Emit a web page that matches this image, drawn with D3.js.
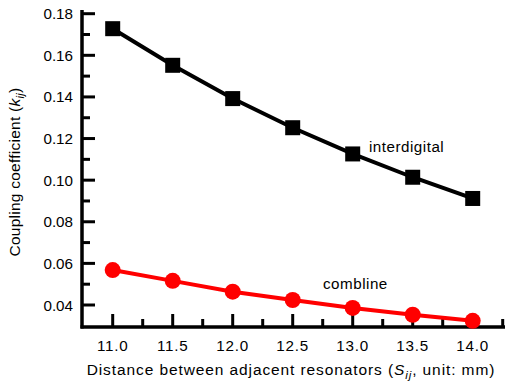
<!DOCTYPE html>
<html>
<head>
<meta charset="utf-8">
<script src="https://cdn.jsdelivr.net/npm/d3@7"></script>
<style>
  body { margin: 0; background: #fff; }
  svg text { font-family: "Liberation Sans", Arial, sans-serif; fill: #000; }
</style>
</head>
<body>
<svg width="507" height="385"></svg>
<script>
// distance between resonators, mm
const distance = [11.0, 11.5, 12.0, 12.5, 13.0, 13.5, 14.0];
const interdigital = [0.1728, 0.1552, 0.1392, 0.1252, 0.1126, 0.1014, 0.0912];
const combline = [0.0568, 0.0516, 0.0464, 0.0424, 0.0386, 0.0353, 0.0324];
const xTicks = [11.0, 11.5, 12.0, 12.5, 13.0, 13.5, 14.0];
const yTicks = [0.04, 0.06, 0.08, 0.10, 0.12, 0.14, 0.16, 0.18];

const svg = d3.select("svg");

const x = d3.scaleLinear().domain([11.0, 14.0]).range([112.7, 472.7]);
const y = d3.scaleLinear().domain([0.04, 0.18]).range([305, 13.7]);
const yBottom = 327, yTop = 10;
const xLeft = 82, xRight = 505;

const axisG = svg.append("g");

// axis lines
axisG.append("line")
  .attr("x1", xLeft).attr("x2", xLeft)
  .attr("y1", yTop).attr("y2", yBottom + 1.5)
  .attr("stroke", "#000").attr("stroke-width", 3.5);
axisG.append("line")
  .attr("x1", xLeft - 1.5).attr("x2", xRight)
  .attr("y1", yBottom).attr("y2", yBottom)
  .attr("stroke", "#000").attr("stroke-width", 3.5);

// y ticks (major + minor) pointing inward
const yMinor = d3.range(0.03, 0.181, 0.01).filter(v => y(v) <= yBottom - 2);
yMinor.forEach(v => {
  const major = yTicks.some(t => Math.abs(t - v) < 1e-6);
  axisG.append("line")
    .attr("x1", xLeft).attr("x2", xLeft + (major ? 13 : 8))
    .attr("y1", y(v)).attr("y2", y(v))
    .attr("stroke", "#000").attr("stroke-width", 3);
});
axisG.selectAll(".ylab").data(yTicks).join("text")
  .attr("x", 73).attr("y", d => y(d) + 5.5)
  .attr("text-anchor", "end").attr("font-size", 15.2)
  .text(d => d3.format(".2f")(d));

// x ticks
const xMinor = d3.range(11.0, 14.3, 0.25);
xMinor.forEach(v => {
  const major = xTicks.some(t => Math.abs(t - v) < 1e-6);
  axisG.append("line")
    .attr("x1", x(v)).attr("x2", x(v))
    .attr("y1", yBottom).attr("y2", yBottom - (major ? 13 : 8))
    .attr("stroke", "#000").attr("stroke-width", 3);
});
axisG.selectAll(".xlab").data(xTicks).join("text")
  .attr("x", d => x(d)).attr("y", 351)
  .attr("text-anchor", "middle").attr("font-size", 15.2)
  .attr("letter-spacing", 0.8)
  .text(d => d3.format(".1f")(d));

// axis titles
const xt = svg.append("text")
  .attr("x", 291).attr("y", 375)
  .attr("text-anchor", "middle").attr("font-size", 15.5)
  .attr("letter-spacing", 0.9);
xt.append("tspan").text("Distance between adjacent resonators (");
xt.append("tspan").attr("font-style", "italic").text("S");
xt.append("tspan").attr("font-style", "italic").attr("font-size", 11.5).attr("dy", 4).text("ij");
xt.append("tspan").attr("dy", -4).text(", unit: mm)");

const yt = svg.append("text")
  .attr("transform", "translate(20,172) rotate(-90)")
  .attr("text-anchor", "middle").attr("font-size", 15.5)
  .attr("letter-spacing", 0.25);
yt.append("tspan").text("Coupling coefficient (");
yt.append("tspan").attr("font-style", "italic").text("k");
yt.append("tspan").attr("font-style", "italic").attr("font-size", 11.5).attr("dy", 4).text("ij");
yt.append("tspan").attr("dy", -4).text(")");

// series
const lineGen = d3.line().x((d, i) => x(distance[i])).y(d => y(d));

svg.append("path").datum(interdigital)
  .attr("d", lineGen).attr("fill", "none")
  .attr("stroke", "#000").attr("stroke-width", 4);
svg.selectAll(".sq").data(interdigital).join("rect")
  .attr("x", (d, i) => x(distance[i]) - 7.5)
  .attr("y", d => y(d) - 7.5)
  .attr("width", 15).attr("height", 15)
  .attr("fill", "#000");

svg.append("path").datum(combline)
  .attr("d", lineGen).attr("fill", "none")
  .attr("stroke", "#ff0000").attr("stroke-width", 4);
svg.selectAll(".ci").data(combline).join("circle")
  .attr("cx", (d, i) => x(distance[i]))
  .attr("cy", d => y(d))
  .attr("r", 8).attr("fill", "#ff0000");

// series labels
svg.append("text").attr("x", 369).attr("y", 152)
  .attr("font-size", 15.2).attr("letter-spacing", 0.5).text("interdigital");
svg.append("text").attr("x", 323).attr("y", 289)
  .attr("font-size", 15.2).attr("letter-spacing", 0.5).text("combline");
</script>
</body>
</html>
